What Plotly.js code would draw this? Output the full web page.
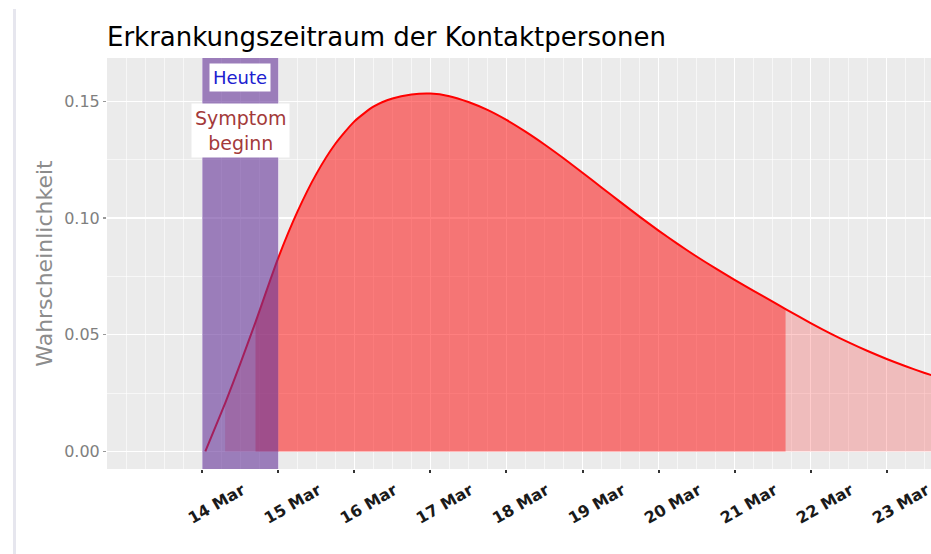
<!DOCTYPE html>
<html><head><meta charset="utf-8">
<script src="https://cdn.plot.ly/plotly-3.0.1.min.js"></script>
<style>
html,body{margin:0;padding:0;background:#fff;overflow:hidden;}
#edge{position:absolute;left:13px;top:9px;width:3px;height:545px;background:#e6e6ee;}
#chart{position:absolute;left:0;top:0;width:931px;height:554px;}
</style></head><body>
<div id="edge"></div><div id="chart"></div>
<script>
// Days after 14 Mar 2020 (00:00)
const dayOffsets = [0.04, 0.25, 0.3, 0.5, 0.7, 1.0, 1.25, 1.5, 1.75, 2.0, 2.25, 2.5, 2.75, 3.0, 3.25, 3.5, 3.75,
  4.0, 4.25, 4.5, 4.75, 5.0, 5.25, 5.5, 5.75, 6.0, 6.25, 6.5, 6.75, 7.0, 7.25, 7.5, 7.67,
  8.0, 8.25, 8.5, 8.75, 9.0, 9.25, 9.5, 9.65];
const probability = [0.0, 0.0166, 0.0206, 0.0376, 0.0554, 0.0830, 0.1026, 0.1189, 0.1318, 0.1414, 0.1477, 0.1512, 0.1529, 0.1533, 0.1522, 0.1497, 0.1463,
  0.1420, 0.1370, 0.1315, 0.1256, 0.1194, 0.1131, 0.1068, 0.1006, 0.0946, 0.0889, 0.0835, 0.0784, 0.0735, 0.0688, 0.0642, 0.0610,
  0.0550, 0.0507, 0.0467, 0.0430, 0.0396, 0.0365, 0.0336, 0.0320];
const lightFillFrom = 0.3, lightFillTo = 9.65;
const darkFillFrom = 0.7, darkFillTo = 7.67;
const bandFrom = 0, bandTo = 1;
const tickDays = [0, 1, 2, 3, 4, 5, 6, 7, 8, 9];
const tickLabels = ['14 Mar', '15 Mar', '16 Mar', '17 Mar', '18 Mar', '19 Mar', '20 Mar', '21 Mar', '22 Mar', '23 Mar'];
const yTicks = [0, 0.05, 0.10, 0.15];
const yTickLabels = ['0.00', '0.05', '0.10', '0.15'];
const labelToday = 'Heute';
const labelOnset = 'Symptom<br>beginn';

function toDate(d) {
  const ms = Date.UTC(2020, 2, 14) + Math.round(d * 86400000);
  return new Date(ms).toISOString().slice(0, 19).replace('T', ' ');
}
function subset(from, to) {
  const x = [], y = [];
  dayOffsets.forEach((d, i) => { if (d >= from - 1e-9 && d <= to + 1e-9) { x.push(toDate(d)); y.push(probability[i]); } });
  return {x, y};
}
const light = subset(lightFillFrom, lightFillTo);
const dark = subset(darkFillFrom, darkFillTo);

const traces = [
  {x: light.x, y: light.y, type: 'scatter', mode: 'lines', fill: 'tozeroy', fillcolor: 'rgba(255,0,0,0.2)', line: {width: 0, shape: 'spline', smoothing: 0.6}, hoverinfo: 'skip', showlegend: false},
  {x: dark.x, y: dark.y, type: 'scatter', mode: 'lines', fill: 'tozeroy', fillcolor: 'rgba(255,0,0,0.375)', line: {width: 0, shape: 'spline', smoothing: 0.6}, hoverinfo: 'skip', showlegend: false},
  {x: dayOffsets.map(toDate), y: probability, type: 'scatter', mode: 'lines', line: {color: '#ff0000', width: 2, shape: 'spline', smoothing: 0.6}, showlegend: false}
];

const layout = {
  width: 931, height: 554,
  margin: {l: 107, r: 0, t: 58, b: 85},
  paper_bgcolor: 'rgba(0,0,0,0)',
  plot_bgcolor: '#ebebeb',
  font: {family: 'DejaVu Sans, sans-serif'},
  title: {text: 'Erkrankungszeitraum der Kontaktpersonen', font: {size: 26, color: '#000'},
          xref: 'paper', x: 0, xanchor: 'left', yref: 'container', y: 1 - 37/554, yanchor: 'middle'},
  xaxis: {
    type: 'date', range: [toDate(-1.253), toDate(9.5825)],
    tickmode: 'array', tickvals: tickDays.map(toDate), ticktext: tickLabels,
    tickangle: -30, tickfont: {family: 'DejaVu Sans', size: 16, color: '#1a1a1a', weight: 'bold'},
    ticks: 'outside', ticklen: 3, tickwidth: 2, tickcolor: '#333',
    ticklabelshift: 40, ticklabelstandoff: 2, ticklabeloverflow: 'allow',
    showgrid: true, gridcolor: '#ffffff', gridwidth: 1.5,
    minor: {dtick: 21600000, showgrid: true, gridcolor: 'rgba(255,255,255,0.85)', gridwidth: 0.7},
    zeroline: false, showline: false, fixedrange: true
  },
  yaxis: {
    range: [-0.00754, 0.16855],
    tickmode: 'array', tickvals: yTicks, ticktext: yTickLabels,
    tickfont: {size: 16, color: '#7f7f7f'},
    ticks: 'outside', ticklen: 3, tickwidth: 1.2, tickcolor: '#999',
    showgrid: true, gridcolor: '#ffffff', gridwidth: 1.5,
    minor: {tickmode: 'array', tickvals: [0.025, 0.075, 0.125], showgrid: true, gridcolor: 'rgba(255,255,255,0.85)', gridwidth: 0.7},
    zeroline: false, showline: false,
    title: {text: 'Wahrscheinlichkeit', font: {size: 22, color: '#8c8c8c'}, standoff: 5}
  },
  shapes: [{type: 'rect', xref: 'x', yref: 'paper', x0: toDate(bandFrom), x1: toDate(bandTo), y0: 0, y1: 1,
            fillcolor: 'rgba(102,51,153,0.6)', line: {width: 0}, layer: 'above'}],
  annotations: [
    {x: toDate(0.5), y: 0.1603, xref: 'x', yref: 'y', text: labelToday, showarrow: false,
     font: {size: 18, color: '#2020d0'}, bgcolor: '#ffffff', borderpad: 3},
    {x: toDate(0.5), y: 0.1373, xref: 'x', yref: 'y', text: labelOnset, showarrow: false,
     font: {size: 19, color: '#a33a3a'}, bgcolor: '#ffffff', borderpad: 3}
  ]
};
Plotly.newPlot('chart', traces, layout, {displayModeBar: false, staticPlot: true});
</script>
</body></html>
